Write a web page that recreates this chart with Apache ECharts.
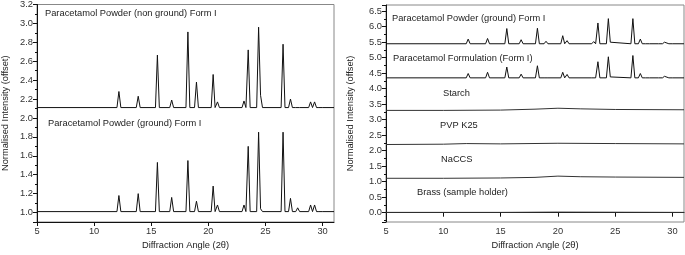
<!DOCTYPE html>
<html>
<head>
<meta charset="utf-8">
<script src="https://cdn.jsdelivr.net/npm/echarts@6/dist/echarts.min.js"></script>
<style>
  html, body { margin: 0; padding: 0; background: #fff; }
  #chart { width: 685px; height: 255px; }
</style>
</head>
<body>
<div id="chart"></div>
<script>
// Bragg peak positions (2θ), shared by all paracetamol patterns
const peakAngles = [12.17, 13.86, 15.54, 16.79, 18.21, 18.96, 20.42, 20.8, 23.12, 23.49, 24.4, 24.57, 26.54, 27.19, 27.82, 28.95, 29.3, 29.85];

// left panel
const nonGroundBase = 2.11;
const nonGroundPeaks = [2.28, 2.23, 2.665, 2.19, 2.91, 2.38, 2.46, 2.17, 2.18, 2.72, 2.96, 2.24, 2.78, 2.2, 2.13, 2.17, 2.17, 2.12];
const groundBase = 1.01;
const groundPeaks = [1.18, 1.2, 1.53, 1.16, 1.55, 1.12, 1.28, 1.08, 1.08, 1.7, 1.85, 1.04, 1.85, 1.15, 1.05, 1.08, 1.08, 1.02];

// right panel
const powderBase = 5.45;
const powderPeaks = [5.6, 5.62, 5.94, 5.58, 5.95, 5.53, 5.71, 5.55, 5.52, 6.12, 6.26, 5.5, 6.26, 5.6, 5.5, 5.5, 5.5, 5.46];
const formulationBase = 4.35;
const formulationPeaks = [4.49, 4.53, 4.7, 4.47, 4.74, 4.38, 4.53, 4.46, 4.4, 4.87, 5.03, 4.38, 5.07, 4.49, 4.38, 4.4, 4.4, 4.36];

const starchAngles = [5, 10, 15, 18, 20, 22, 25, 31];
const starchValues = [3.3, 3.3, 3.31, 3.34, 3.37, 3.35, 3.33, 3.32];
const pvpAngles = [5, 10, 12, 15, 20, 25, 31];
const pvpValues = [2.2, 2.21, 2.23, 2.22, 2.24, 2.23, 2.22];
const naccsAngles = [5, 10, 15, 18, 20, 22, 25, 31];
const naccsValues = [1.11, 1.11, 1.12, 1.14, 1.18, 1.16, 1.15, 1.14];
const brassAngles = [5, 15, 20, 31];
const brassValues = [0.01, 0.01, 0.02, 0.01];

const halfWidth = 0.17;

// baseline -> peak -> baseline, joining neighbours that overlap
function profile(base, heights) {
  const pts = [[5, base]];
  peakAngles.forEach((p, i) => {
    const prev = peakAngles[i - 1];
    const next = peakAngles[i + 1];
    if (prev === undefined || p - halfWidth > prev + halfWidth) pts.push([p - halfWidth, base]);
    pts.push([p, heights[i]]);
    if (next === undefined || p + halfWidth < next - halfWidth) pts.push([p + halfWidth, base]);
  });
  pts.push([31, base]);
  return pts;
}

const zip = (xs, ys) => xs.map((x, i) => [x, ys[i]]);

const font = '"Liberation Sans", Arial, sans-serif';
const fs = 9.3;

const xAxisBase = gi => ({
  type: 'value',
  gridIndex: gi,
  min: 5,
  max: 31,
  interval: 5,
  name: 'Diffraction Angle (2θ)',
  nameLocation: 'middle',
  nameGap: 19,
  nameTextStyle: { fontFamily: font, fontSize: fs, color: '#222' },
  axisLine: { lineStyle: { color: '#111', width: 1 } },
  axisTick: { inside: false, length: 4, lineStyle: { color: '#111' } },
  axisLabel: { fontFamily: font, fontSize: fs, color: '#333', margin: 5, showMaxLabel: false },
  splitLine: { show: false }
});

const yAxisBase = (gi, min, max, split, nameGap) => ({
  type: 'value',
  gridIndex: gi,
  min,
  max,
  splitNumber: split,
  name: 'Normalised Intensity (offset)',
  nameLocation: 'middle',
  nameGap,
  nameTextStyle: { fontFamily: font, fontSize: fs, color: '#222' },
  axisLine: { show: true, lineStyle: { color: '#111', width: 1 } },
  axisTick: { inside: false, length: 4, lineStyle: { color: '#111' } },
  minorTick: { show: true, splitNumber: 2, length: 2, lineStyle: { color: '#111' } },
  axisLabel: {
    fontFamily: font, fontSize: fs, color: '#333', margin: 4,
    showMinLabel: false,
    formatter: v => v.toFixed(1)
  },
  splitLine: { show: false },
  minorSplitLine: { show: false }
});

const lineSeries = (xi, data, color) => ({
  type: 'line',
  xAxisIndex: xi,
  yAxisIndex: xi,
  data,
  showSymbol: false,
  symbol: 'none',
  animation: false,
  lineStyle: { color: color || '#111', width: 1 }
});

const label = (x, y, text) => ({
  type: 'text',
  left: x,
  top: y - 6,
  style: { text, font: `${fs}px ${font}`, fill: '#222' }
});

const chart = echarts.init(document.getElementById('chart'));
chart.setOption({
  animation: false,
  grid: [
    { left: 37, right: 351, top: 4, bottom: 33, show: true, borderColor: '#888', borderWidth: 1 },
    { left: 386, right: 1, top: 5, bottom: 32, show: true, borderColor: '#888', borderWidth: 1 }
  ],
  xAxis: [xAxisBase(0), xAxisBase(1)],
  yAxis: [
    yAxisBase(0, 0.9, 3.2, 12, 27),
    Object.assign(yAxisBase(1, -0.3, 6.7, 14, 31), {
      axisLabel: {
        fontFamily: font, fontSize: fs, color: '#333', margin: 4,
        showMinLabel: false, showMaxLabel: false,
        formatter: v => v.toFixed(1)
      }
    })
  ],
  series: [
    lineSeries(0, profile(nonGroundBase, nonGroundPeaks)),
    lineSeries(0, profile(groundBase, groundPeaks)),
    lineSeries(1, profile(powderBase, powderPeaks)),
    lineSeries(1, profile(formulationBase, formulationPeaks)),
    lineSeries(1, zip(starchAngles, starchValues), '#333'),
    lineSeries(1, zip(pvpAngles, pvpValues), '#333'),
    lineSeries(1, zip(naccsAngles, naccsValues), '#333'),
    lineSeries(1, zip(brassAngles, brassValues), '#333')
  ],
  graphic: [
    label(45, 15, 'Paracetamol Powder (non ground) Form I'),
    label(48, 125, 'Paracetamol Powder (ground) Form I'),
    label(392, 20, 'Paracetamol Powder (ground) Form I'),
    label(393, 60, 'Paracetamol Formulation (Form I)'),
    label(443, 95, 'Starch'),
    label(440, 127, 'PVP K25'),
    label(441, 161, 'NaCCS'),
    label(417, 194, 'Brass (sample holder)')
  ]
});
</script>
</body>
</html>
